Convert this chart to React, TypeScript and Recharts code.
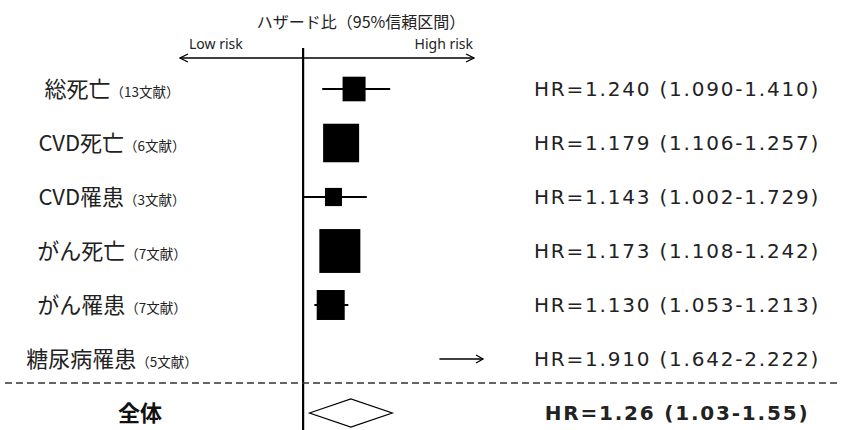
import React from "react";
import { Bar, ComposedChart, ReferenceLine, Scatter, XAxis, YAxis } from "recharts";

const outcomes = ["総死亡", "CVD死亡", "CVD罹患", "がん死亡", "がん罹患", "糖尿病罹患", "全体"];
const studyCounts = ["（13文献）", "（6文献）", "（3文献）", "（7文献）", "（7文献）", "（5文献）", ""];
const hrLabels = [
  "HR=1.240 (1.090-1.410)",
  "HR=1.179 (1.106-1.257)",
  "HR=1.143 (1.002-1.729)",
  "HR=1.173 (1.108-1.242)",
  "HR=1.130 (1.053-1.213)",
  "HR=1.910 (1.642-2.222)",
  "HR=1.26 (1.03-1.55)",
];
// estimates / intervals as they are drawn in the plot
const hr = [1.24, 1.179, 1.143, 1.173, 1.13, 1.91, 1.26];
const ciLow = [1.09, 1.106, 1.002, 1.108, 1.053, 1.642, 1.03];
const ciHigh = [1.41, 1.257, 1.3, 1.242, 1.213, 2.222, 1.42];
const weights = [2.3, 3.6, 1.7, 4.1, 2.8, 0, 0];
const riskLabels = ["Low risk", "High risk"];

const X_MIN = 0.42;
const X_MAX = 1.805;
const OVERALL = "全体";
const JP = "Noto Sans CJK JP";
const NUM = "DejaVu Sans";

const data = outcomes.map((name, i) => ({
  name,
  count: studyCounts[i],
  label: hrLabels[i],
  est: hr[i] > X_MAX || name === OVERALL ? null : hr[i],
  range: [ciLow[i], Math.min(ciHigh[i], X_MAX)],
  arrow: ciHigh[i] > X_MAX,
  overall: name === OVERALL,
  weight: weights[i],
}));

const rowOf = (name: string) => data.find((d) => d.name === name)!;

const CiShape = (props: any) => {
  const { x, y, width, height, payload } = props;
  const cy = y + height / 2;
  if (payload.overall) {
    const h = 14;
    return (
      <polygon
        points={`${x},${cy} ${x + width / 2},${cy - h} ${x + width},${cy} ${x + width / 2},${cy + h}`}
        fill="#fff"
        stroke="#000"
        strokeWidth={1.2}
      />
    );
  }
  if (payload.arrow) {
    const end = x + width + 9;
    return (
      <g>
        <line x1={x} y1={cy} x2={end} y2={cy} stroke="#000" strokeWidth={1.3} />
        <polyline points={`${end - 7},${cy - 4} ${end},${cy} ${end - 7},${cy + 4}`} fill="none" stroke="#000" strokeWidth={1.3} />
      </g>
    );
  }
  return <line x1={x} y1={cy} x2={x + width} y2={cy} stroke="#000" strokeWidth={2} />;
};

const BoxShape = (props: any) => {
  const { cx, cy, payload } = props;
  if (cx == null || cy == null || !payload?.weight) return <g />;
  const w = payload.weight * 10;
  const h = w * 1.07;
  return <rect x={cx - w / 2} y={cy - h / 2} width={w} height={h} fill="#000" />;
};

const OutcomeTick = (props: any) => {
  const { x, y, payload } = props;
  const row = rowOf(payload.value);
  if (row.overall) {
    return (
      <text x={x - 40} y={y + 8} textAnchor="middle" fontFamily={JP} fontSize={22} fontWeight="bold" fill="#111">
        {row.name}
      </text>
    );
  }
  return (
    <text x={x - 68} y={y + 8} textAnchor="middle" fontFamily={JP} fill="#222">
      <tspan fontSize={22}>{row.name}</tspan>
      <tspan fontSize={13.5}>{row.count}</tspan>
    </text>
  );
};

const HrTick = (props: any) => {
  const { x, y, payload } = props;
  const row = rowOf(payload.value);
  return (
    <text
      x={x + 203}
      y={y + 7}
      textAnchor="middle"
      fontFamily={NUM}
      fontSize={20}
      letterSpacing={1.8}
      fontWeight={row.overall ? "bold" : "normal"}
      fill="#222"
    >
      {row.label}
    </text>
  );
};

const RiskTick = (props: any) => {
  const { x, payload } = props;
  const low = payload.value === X_MIN;
  return (
    <text x={low ? x + 9 : x - 1} y={49} textAnchor={low ? "start" : "end"} fontFamily="Noto Sans" fontSize={14} fill="#222">
      {low ? riskLabels[0] : riskLabels[1]}
    </text>
  );
};

const RefShape = (props: any) => (
  <line
    x1={props.x1}
    x2={props.x2}
    y1={Math.min(props.y1, props.y2) - 10}
    y2={Math.max(props.y1, props.y2)}
    stroke="#000"
    strokeWidth={2.2}
  />
);

const SepShape = (props: any) => (
  <line x1={5} x2={840} y1={props.y1 - 3} y2={props.y1 - 3} stroke="#333" strokeWidth={1.5} strokeDasharray="7 4" />
);

export default function App() {
  return (
    <div style={{ position: "fixed", left: 0, top: 0, width: 843, height: 430, overflow: "hidden", background: "#fff" }}>
      <ComposedChart
        width={843}
        height={440}
        data={data}
        layout="vertical"
        margin={{ top: 0, right: 0, bottom: 0, left: 0 }}
      >
        <defs>
          <marker
            id="axisArrow"
            viewBox="0 0 10 10"
            refX={9}
            refY={5}
            markerWidth={10}
            markerHeight={10}
            markerUnits="userSpaceOnUse"
            orient="auto-start-reverse"
          >
            <path d="M1,1 L9,5 L1,9" fill="none" stroke="#000" strokeWidth={1.3} />
          </marker>
        </defs>
        <XAxis
          type="number"
          orientation="top"
          height={58}
          domain={[X_MIN, X_MAX]}
          ticks={[X_MIN, X_MAX]}
          tick={<RiskTick />}
          tickLine={false}
          axisLine={{ stroke: "#000", strokeWidth: 1.3, markerStart: "url(#axisArrow)", markerEnd: "url(#axisArrow)" }}
          label={{
            content: (p: any) => (
              <text
                x={p.viewBox.x + p.viewBox.width / 2 + 34}
                y={28}
                textAnchor="middle"
                fontFamily={JP}
                fontSize={16}
                fill="#222"
              >
                ハザード比（95%信頼区間）
              </text>
            ),
          }}
        />
        <YAxis
          type="category"
          dataKey="name"
          width={180}
          axisLine={false}
          tickLine={false}
          tickSize={0}
          tickMargin={0}
          interval={0}
          padding={{ top: 4, bottom: 0 }}
          tick={<OutcomeTick />}
        />
        <YAxis
          yAxisId="hr"
          orientation="right"
          type="category"
          dataKey="name"
          width={369}
          axisLine={false}
          tickLine={false}
          tickSize={0}
          tickMargin={0}
          interval={0}
          padding={{ top: 4, bottom: 0 }}
          tick={<HrTick />}
        />
        <ReferenceLine x={1} shape={<RefShape />} ifOverflow="visible" />
        <ReferenceLine y={OVERALL} position="start" shape={<SepShape />} ifOverflow="visible" />
        <Bar dataKey="range" barSize={28} shape={<CiShape />} isAnimationActive={false} />
        <Scatter dataKey="est" shape={<BoxShape />} isAnimationActive={false} />
      </ComposedChart>
    </div>
  );
}
